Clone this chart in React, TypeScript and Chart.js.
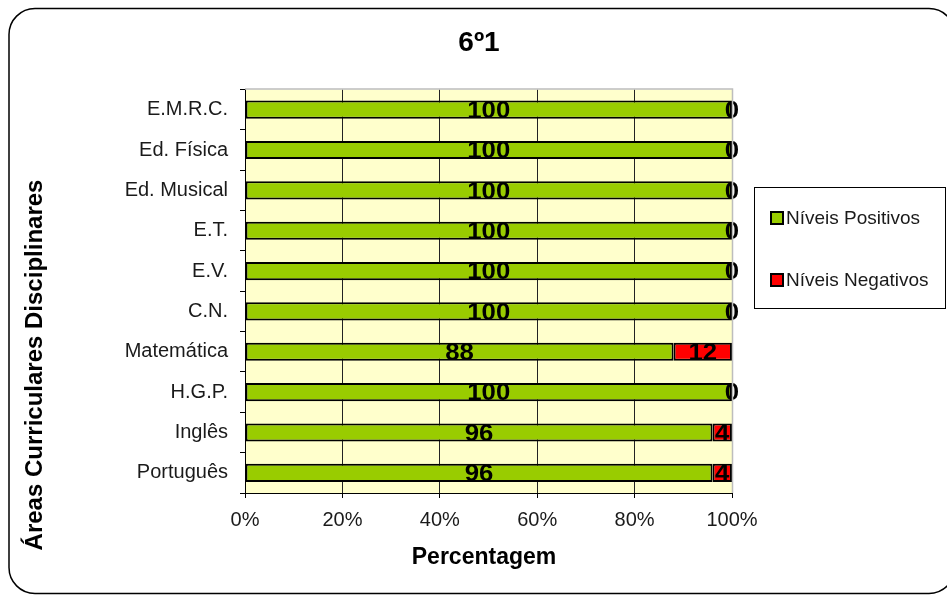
import React, { useEffect, useRef } from "react";
import { Chart, registerables } from "chart.js";

Chart.register(...registerables);

const categories = [
  "E.M.R.C.",
  "Ed. Física",
  "Ed. Musical",
  "E.T.",
  "E.V.",
  "C.N.",
  "Matemática",
  "H.G.P.",
  "Inglês",
  "Português",
];
const positivos = [100, 100, 100, 100, 100, 100, 88, 100, 96, 96];
const negativos = [0, 0, 0, 0, 0, 0, 12, 0, 4, 4];
const seriesNames = ["Níveis Positivos", "Níveis Negativos"];
const seriesColors = ["#99CC00", "#FF0000"];
const xTickValues = [0, 20, 40, 60, 80, 100];
const chartTitle = "6º1";
const xTitle = "Percentagem";
const yTitle = "Áreas Curriculares Disciplinares";

const FONT = "'Liberation Sans', Arial, sans-serif";

const decorPlugin = {
  id: "decor",
  beforeDraw(chart: any) {
    const { ctx, chartArea: a, width, height } = chart;
    ctx.save();
    ctx.fillStyle = "#ffffff";
    ctx.fillRect(0, 0, width, height);
    ctx.fillStyle = "#FFFFCC";
    ctx.fillRect(a.left, a.top, a.right - a.left, a.bottom - a.top);
    ctx.restore();
  },
  afterDatasetsDraw(chart: any) {
    const { ctx } = chart;
    ctx.save();
    ctx.font = `bold 23px ${FONT}`;
    ctx.fillStyle = "#000";
    ctx.textAlign = "center";
    ctx.textBaseline = "middle";
    chart.data.datasets.forEach((ds: any, di: number) => {
      const meta = chart.getDatasetMeta(di);
      meta.data.forEach((el: any, i: number) => {
        const v = ds.data[i];
        const cx = (el.x + el.base) / 2;
        ctx.save();
        ctx.translate(cx, el.y + 2);
        ctx.scale(1.12, 1);
        ctx.fillText(String(v), 0, 0);
        ctx.restore();
      });
    });
    ctx.restore();
  },
  afterDraw(chart: any) {
    const { ctx, chartArea: a } = chart;
    ctx.save();
    // grey plot border top/right
    ctx.strokeStyle = "#BDBDBD";
    ctx.lineWidth = 1.5;
    ctx.beginPath();
    ctx.moveTo(a.left, a.top - 0.5);
    ctx.lineTo(a.right + 0.5, a.top - 0.5);
    ctx.lineTo(a.right + 0.5, a.bottom);
    ctx.stroke();

    // outer rounded border
    ctx.strokeStyle = "#000";
    ctx.lineWidth = 1.5;
    ctx.beginPath();
    (ctx as any).roundRect(9, 8.5, 946, 585, 26);
    ctx.stroke();

    // title
    ctx.fillStyle = "#000";
    ctx.textAlign = "center";
    ctx.textBaseline = "middle";
    ctx.font = `bold 28px ${FONT}`;
    ctx.fillText(chartTitle, 479, 43);

    // x title
    ctx.font = `bold 23px ${FONT}`;
    ctx.fillText(xTitle, 484, 558);

    // y title
    ctx.save();
    ctx.translate(35, 365);
    ctx.rotate(-Math.PI / 2);
    ctx.font = `bold 24px ${FONT}`;
    ctx.fillText(yTitle, 0, 0);
    ctx.restore();

    // legend
    ctx.strokeStyle = "#000";
    ctx.lineWidth = 1;
    ctx.strokeRect(754.5, 187.5, 191, 121);
    const ys = [218, 280];
    seriesNames.forEach((name, i) => {
      const cy = ys[i];
      ctx.fillStyle = seriesColors[i];
      ctx.fillRect(771, cy - 6, 12, 12);
      ctx.lineWidth = 2;
      ctx.strokeStyle = "#000";
      ctx.strokeRect(771, cy - 6, 12, 12);
      ctx.fillStyle = "#1a1a1a";
      ctx.textAlign = "left";
      ctx.textBaseline = "middle";
      ctx.font = `19px ${FONT}`;
      ctx.fillText(name, 786, cy + 1);
    });
    ctx.restore();
  },
};

export default function App() {
  const ref = useRef<HTMLCanvasElement | null>(null);

  useEffect(() => {
    document.body.style.margin = "0";
    document.body.style.overflow = "hidden";
    const canvas = ref.current;
    if (!canvas) return;
    const chart = new Chart(canvas, {
      type: "bar",
      data: {
        labels: categories,
        datasets: [
          {
            label: seriesNames[0],
            data: positivos,
            backgroundColor: seriesColors[0],
            borderColor: "#000",
            borderWidth: 2,
            borderSkipped: false,
            categoryPercentage: 1,
            barPercentage: 0.45,
          },
          {
            label: seriesNames[1],
            data: negativos,
            backgroundColor: seriesColors[1],
            borderColor: "#000",
            borderWidth: 2,
            borderSkipped: false,
            categoryPercentage: 1,
            barPercentage: 0.45,
          },
        ],
      },
      options: {
        indexAxis: "y",
        responsive: false,
        animation: false,
        devicePixelRatio: 1,
        layout: { padding: { left: 0, top: 89.5, right: 215, bottom: 0 } },
        plugins: {
          legend: { display: false },
          title: { display: false },
          tooltip: { enabled: false },
        },
        scales: {
          x: {
            type: "linear",
            stacked: true,
            min: 0,
            max: 100,
            afterBuildTicks: (scale: any) => {
              scale.ticks = xTickValues.map((v) => ({ value: v }));
            },
            afterFit: (scale: any) => {
              scale.height = 102;
            },
            ticks: {
              callback: (v: any) => `${v}%`,
              font: { family: FONT, size: 20 },
              color: "#1a1a1a",
              padding: 10,
              maxRotation: 0,
            },
            grid: {
              color: (c: any) => (c.tick && c.tick.value === 100 ? "#BDBDBD" : "#222"),
              tickColor: "#000",
              tickLength: 5,
              lineWidth: 1,
            },
            border: { display: true, color: "#000", width: 1 },
          },
          y: {
            type: "category",
            stacked: true,
            afterFit: (scale: any) => {
              scale.width = 245;
            },
            ticks: {
              font: { family: FONT, size: 20 },
              color: "#1a1a1a",
              padding: 12,
            },
            grid: {
              offset: true,
              drawOnChartArea: false,
              drawTicks: true,
              tickLength: 5,
              color: "#000",
              tickColor: "#000",
            },
            border: { display: true, color: "#000", width: 1 },
          },
        },
      },
      plugins: [decorPlugin],
    } as any);
    return () => chart.destroy();
  }, []);

  return (
    <canvas
      ref={ref}
      width={947}
      height={595}
      style={{ display: "block", width: 947, height: 595 }}
    />
  );
}
